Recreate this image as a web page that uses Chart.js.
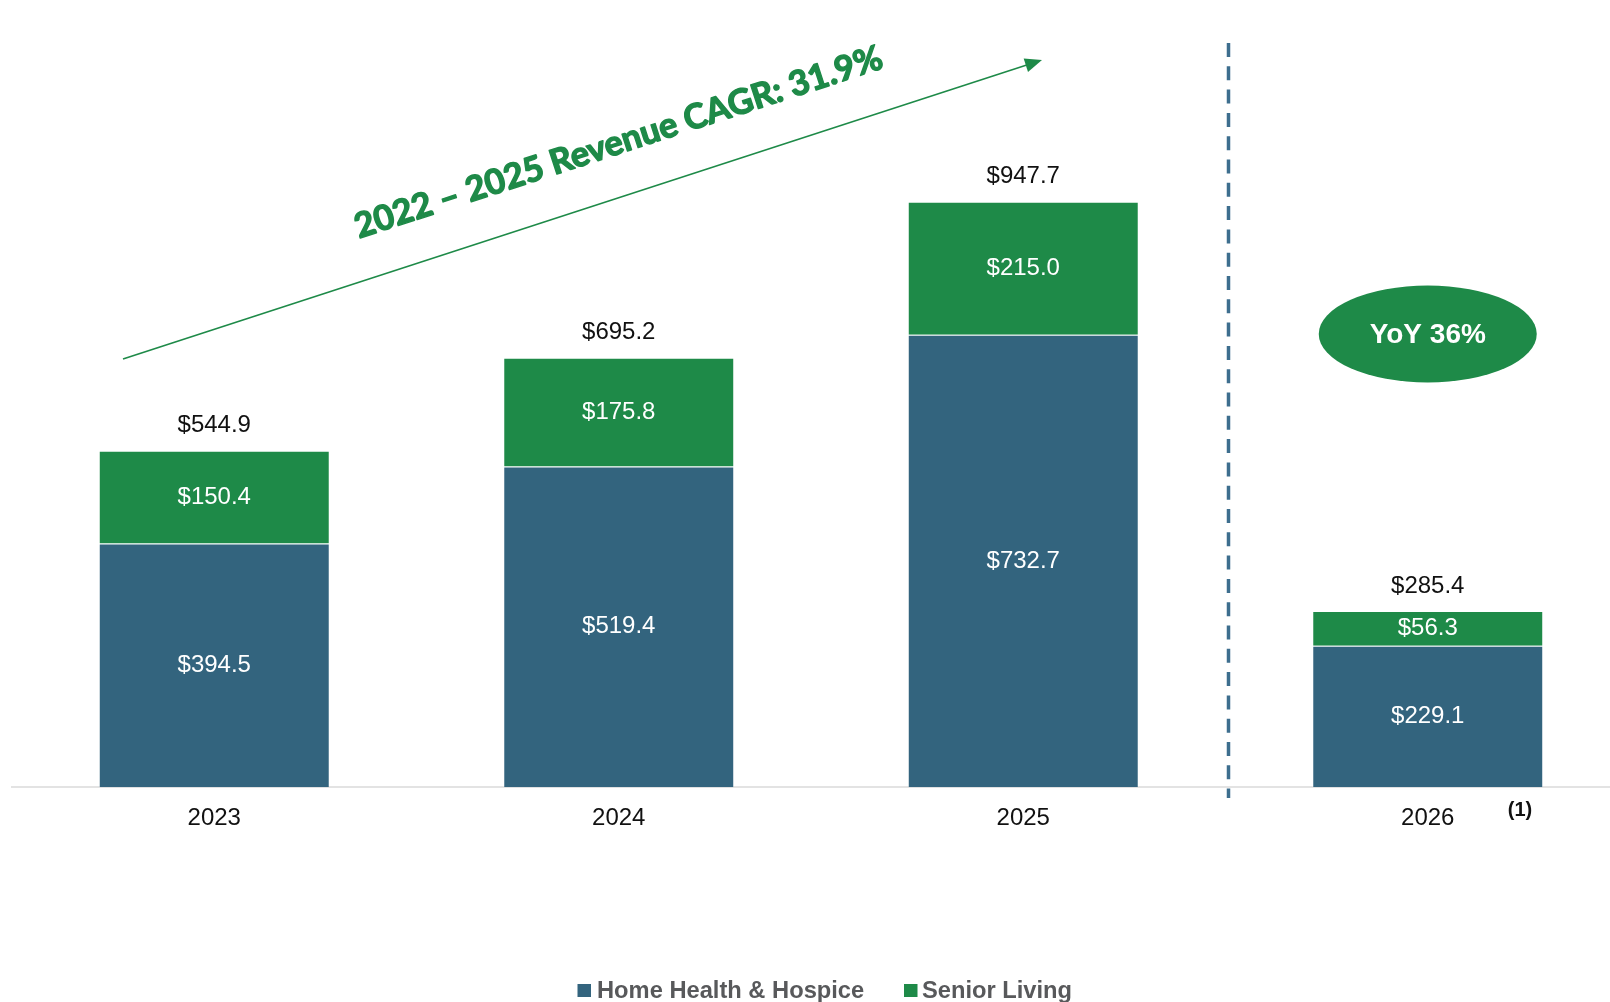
<!DOCTYPE html>
<html>
<head>
<meta charset="utf-8">
<title>Revenue by segment</title>
<script src="https://cdn.jsdelivr.net/npm/chart.js@4.4.1/dist/chart.umd.min.js"></script>
<style>
  html, body { margin: 0; padding: 0; background: #fff; overflow: hidden; }
  #wrap { width: 1610px; height: 1002px; overflow: hidden; }
  canvas { display: block; }
</style>
</head>
<body>
<div id="wrap"><canvas id="revenueChart" width="1630" height="1002"></canvas></div>
<script>
// revenue ($M) per segment
const years = ['2023', '2024', '2025', '2026'];
const homeHealth = [394.5, 519.4, 732.7, 229.1];
const seniorLiving = [150.4, 175.8, 215.0, 56.3];
const totals = [544.9, 695.2, 947.7, 285.4];
const seriesNames = ['Home Health & Hospice', 'Senior Living'];
const cagrText = '2022 – 2025 Revenue CAGR: 31.9%';
const yoyText = 'YoY 36%';
const footnote = '(1)';

const BLUE = '#33647e';
const GREEN = '#1e8a48';
const FONT = '"Liberation Sans", Arial, sans-serif';

const money = v => '$' + v.toFixed(1);

// segment values inside the bars, totals above them
const barLabels = {
  id: 'barLabels',
  afterDatasetsDraw(chart) {
    const { ctx } = chart;
    ctx.save();
    ctx.font = '24px ' + FONT;
    ctx.textAlign = 'center';
    ctx.textBaseline = 'middle';
    ctx.fillStyle = '#ffffff';
    chart.data.datasets.forEach((ds, i) => {
      chart.getDatasetMeta(i).data.forEach((bar, j) => {
        ctx.fillText(money(ds.data[j]), bar.x, (bar.y + bar.base) / 2);
      });
    });
    const top = chart.getDatasetMeta(chart.data.datasets.length - 1);
    ctx.fillStyle = '#111111';
    top.data.forEach((bar, j) => ctx.fillText(money(totals[j]), bar.x, bar.y - 25));
    ctx.restore();
  }
};

// CAGR arrow, forecast divider, YoY badge, footnote and legend
const extras = {
  id: 'extras',
  afterDraw(chart) {
    const { ctx, scales: { x } } = chart;
    ctx.save();

    // growth arrow
    const x0 = 123, y0 = 359, x1 = 1042, y1 = 60;
    const ang = Math.atan2(y1 - y0, x1 - x0);
    ctx.strokeStyle = GREEN;
    ctx.fillStyle = GREEN;
    ctx.lineWidth = 1.6;
    ctx.beginPath();
    ctx.moveTo(x0, y0);
    ctx.lineTo(x1 - 12 * Math.cos(ang), y1 - 12 * Math.sin(ang));
    ctx.stroke();
    ctx.save();
    ctx.translate(x1, y1);
    ctx.rotate(ang);
    ctx.beginPath();
    ctx.moveTo(0, 0);
    ctx.lineTo(-17, -7);
    ctx.lineTo(-17, 7);
    ctx.closePath();
    ctx.fill();
    ctx.restore();

    // CAGR caption along the arrow (stroked a little for a heavier weight)
    ctx.save();
    ctx.translate(622, 153);
    ctx.rotate(-18 * Math.PI / 180);
    ctx.font = 'bold 34.5px Lato, "Open Sans", sans-serif';
    ctx.textAlign = 'center';
    ctx.textBaseline = 'alphabetic';
    ctx.lineWidth = 1.4;
    ctx.lineJoin = 'round';
    ctx.fillText(cagrText, 0, 0);
    ctx.strokeText(cagrText, 0, 0);
    ctx.restore();

    // dashed divider between actuals and 2026
    const divX = (x.getPixelForValue(2) + x.getPixelForValue(3)) / 2 + 3;
    ctx.strokeStyle = '#3d6e8e';
    ctx.lineWidth = 3.5;
    ctx.setLineDash([14, 9.3]);
    ctx.beginPath();
    ctx.moveTo(divX, 43);
    ctx.lineTo(divX, 798);
    ctx.stroke();
    ctx.setLineDash([]);

    // YoY badge
    const cx = x.getPixelForValue(3);
    ctx.fillStyle = GREEN;
    ctx.beginPath();
    ctx.ellipse(cx, 334, 109, 48.5, 0, 0, Math.PI * 2);
    ctx.fill();
    ctx.fillStyle = '#ffffff';
    ctx.font = 'bold 28px ' + FONT;
    ctx.textAlign = 'center';
    ctx.textBaseline = 'middle';
    ctx.fillText(yoyText, cx, 335);

    // footnote marker on 2026
    ctx.fillStyle = '#111111';
    ctx.font = 'bold 20px ' + FONT;
    ctx.fillText(footnote, 1520, 810);

    // legend
    ctx.font = 'bold 23.7px ' + FONT;
    ctx.textAlign = 'left';
    ctx.textBaseline = 'alphabetic';
    const items = [[577.5, 597], [904, 922]];
    chart.data.datasets.forEach((ds, i) => {
      const [bx, tx] = items[i];
      ctx.fillStyle = ds.backgroundColor;
      ctx.fillRect(bx, 984, 13.5, 13);
      ctx.fillStyle = '#58595b';
      ctx.fillText(ds.label, tx, 998);
    });

    ctx.restore();
  }
};

new Chart(document.getElementById('revenueChart'), {
  type: 'bar',
  data: {
    labels: years,
    datasets: [
      {
        label: seriesNames[0],
        data: homeHealth,
        backgroundColor: BLUE,
        borderColor: 'rgba(255,255,255,0.2)',
        borderWidth: 1
      },
      {
        label: seriesNames[1],
        data: seniorLiving,
        backgroundColor: GREEN,
        borderColor: 'rgba(255,255,255,0.2)',
        borderWidth: 1
      }
    ]
  },
  options: {
    responsive: false,
    animation: false,
    layout: { padding: { left: 12, right: 0, top: 46, bottom: 152 } },
    datasets: { bar: { categoryPercentage: 1, barPercentage: 0.571 } },
    plugins: { legend: { display: false }, tooltip: { enabled: false } },
    scales: {
      x: {
        stacked: true,
        grid: { display: false, drawTicks: false },
        border: { display: true, color: '#e3e3e3', width: 2 },
        ticks: { color: '#111111', padding: 17, font: { family: FONT, size: 24 } }
      },
      y: {
        stacked: true,
        display: false,
        min: 0,
        max: 1200
      }
    }
  },
  plugins: [barLabels, extras]
});
</script>
</body>
</html>
